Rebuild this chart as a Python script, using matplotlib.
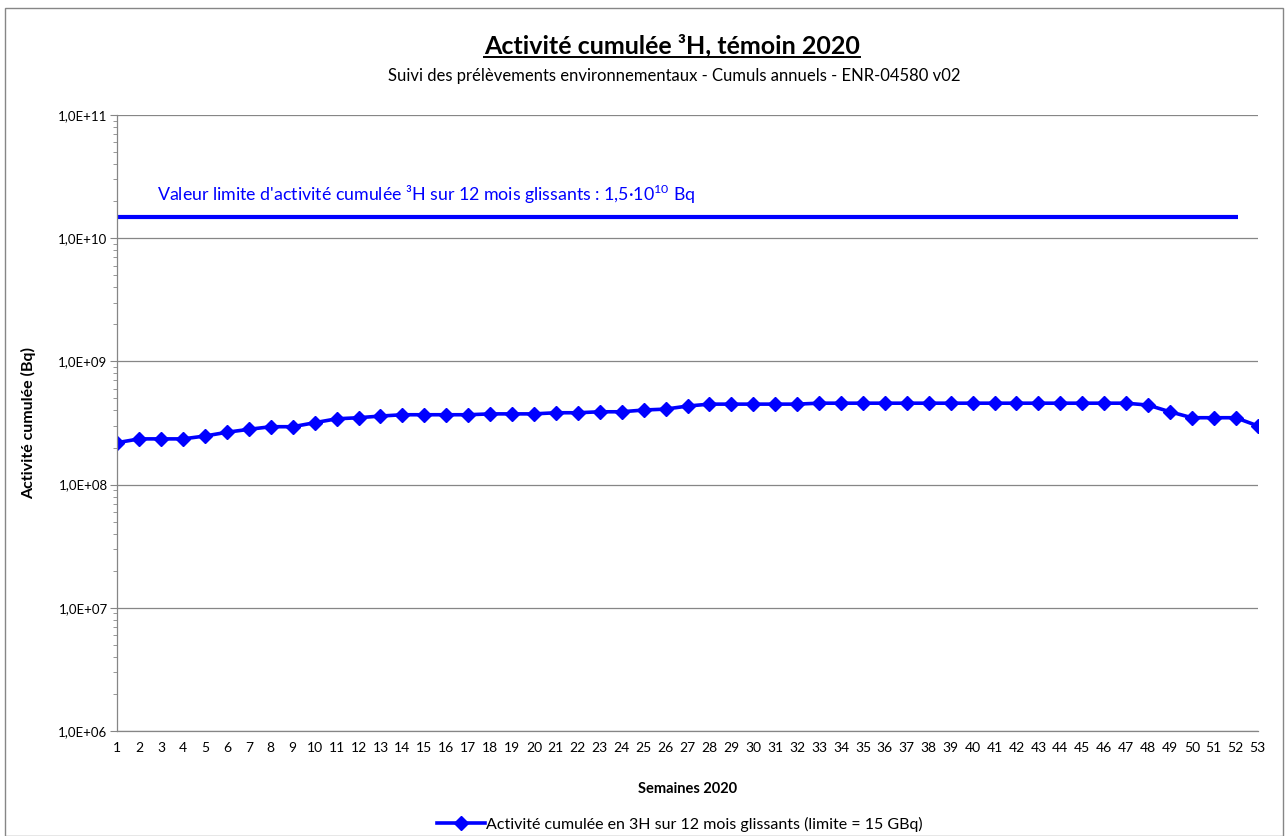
import numpy as np
import matplotlib
matplotlib.use("Agg")
import matplotlib.pyplot as plt
from matplotlib.patches import Rectangle
from matplotlib.lines import Line2D
from matplotlib.ticker import LogLocator, FixedFormatter, NullFormatter

plt.rcParams['font.family'] = ['Lato', 'DejaVu Sans']
plt.rcParams['mathtext.fontset'] = 'custom'
plt.rcParams['mathtext.rm'] = 'Lato'

# weekly cumulated tritium activity (Bq), weeks 1..53
weeks = list(range(1, 54))
activity = [
    2.19e8, 2.35e8, 2.35e8, 2.35e8, 2.48e8, 2.66e8, 2.81e8, 2.95e8, 2.95e8, 3.18e8,
    3.42e8, 3.49e8, 3.60e8, 3.69e8, 3.69e8, 3.69e8, 3.69e8, 3.75e8, 3.75e8, 3.75e8,
    3.83e8, 3.83e8, 3.90e8, 3.90e8, 4.03e8, 4.10e8, 4.34e8, 4.50e8, 4.50e8, 4.50e8,
    4.50e8, 4.50e8, 4.58e8, 4.58e8, 4.58e8, 4.58e8, 4.58e8, 4.58e8, 4.58e8, 4.58e8,
    4.58e8, 4.58e8, 4.58e8, 4.58e8, 4.58e8, 4.58e8, 4.58e8, 4.42e8, 3.90e8, 3.49e8,
    3.49e8, 3.49e8, 3.00e8,
]
limit = 1.5e10
ytick_vals = [1e6, 1e7, 1e8, 1e9, 1e10, 1e11]
ytick_labels = ["1,0E+06", "1,0E+07", "1,0E+08", "1,0E+09", "1,0E+10", "1,0E+11"]

W, H = 1285, 836
fig = plt.figure(figsize=(W / 100, H / 100), dpi=100)
ax = fig.add_axes([117.3 / W, 1 - 731 / H, (1257.7 - 117.3) / W, (731 - 115) / H])

blue = "#0000FF"
ax.plot(weeks, activity, color=blue, lw=2.6, marker="D", ms=7,
        label="Activité cumulée en 3H sur 12 mois glissants (limite = 15 GBq)")
ax.plot([weeks[0], 52.1], [limit, limit], color=blue, lw=3, solid_capstyle="butt")
ax.text(2.8, limit * 1.22, "Valeur limite d'activité cumulée ³H sur 12 mois glissants : "
        "1,5·10$^{\\mathregular{10}}$ Bq", color=blue, fontsize=12.8, va="bottom", ha="left")

ax.set_yscale("log")
ax.set_ylim(1e6, 1e11)
ax.set_xlim(1, 53)
ax.yaxis.set_major_locator(matplotlib.ticker.FixedLocator(ytick_vals))
ax.yaxis.set_major_formatter(FixedFormatter(ytick_labels))
ax.yaxis.set_minor_locator(LogLocator(base=10, subs=np.arange(2, 10), numticks=20))
ax.yaxis.set_minor_formatter(NullFormatter())
ax.set_xticks(weeks)
ax.set_xticklabels([str(w) for w in weeks])

ax.grid(axis="y", which="major", color="#868686", lw=0.9)
ax.set_axisbelow(True)
for s in ["top", "right"]:
    ax.spines[s].set_visible(False)
for s in ["left", "bottom"]:
    ax.spines[s].set_color("#868686")
    ax.spines[s].set_linewidth(0.9)
ax.tick_params(axis="y", which="major", length=5, color="#868686", labelsize=9.5, pad=2)
ax.tick_params(axis="y", which="minor", length=3, color="#868686")
ax.tick_params(axis="x", length=0, labelsize=10, pad=8)

ax.set_xlabel("Semaines 2020", fontsize=10.5, fontweight="bold", labelpad=20)
ax.set_ylabel("Activité cumulée (Bq)", fontsize=11.5, fontweight="bold", labelpad=16)

fig.legend(loc="center", bbox_to_anchor=(680 / W, 1 - 824 / H), frameon=False,
           fontsize=11.5, handlelength=3, handletextpad=0.1)

title = fig.text(672 / W, 1 - 46 / H, "Activité cumulée ³H, témoin 2020",
                 fontsize=18, fontweight="bold", ha="center", va="center")
fig.text(674 / W, 1 - 76 / H,
         "Suivi des prélèvements environnementaux - Cumuls annuels - ENR-04580 v02",
         fontsize=12, ha="center", va="center")

# chart frame
fig.add_artist(Rectangle((5 / W, 0), 1278 / W, 1 - 8 / H, transform=fig.transFigure,
                         fill=False, edgecolor="#868686", lw=1))

# underline for the title
fig.canvas.draw()
bb = title.get_window_extent(fig.canvas.get_renderer())
uy = (bb.y0 + 1) / H
fig.add_artist(Line2D([bb.x0 / W, bb.x1 / W], [uy, uy], transform=fig.transFigure,
                      color="black", lw=1.4))

fig.savefig("out.png", dpi=100)
